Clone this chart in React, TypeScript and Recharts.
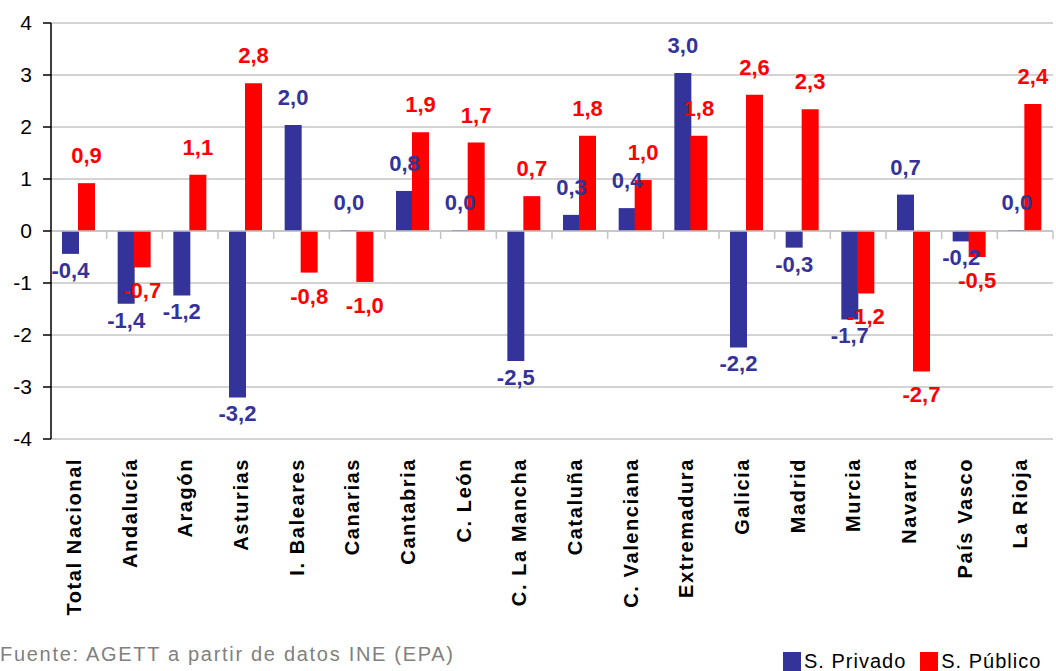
import React from "react"
import { BarChart, Bar, XAxis, YAxis, CartesianGrid, ReferenceLine, LabelList, Legend } from "recharts"

const regions = [
  "Total Nacional", "Andalucía", "Aragón", "Asturias", "I. Baleares", "Canarias",
  "Cantabria", "C. León", "C. La Mancha", "Cataluña", "C. Valenciana", "Extremadura",
  "Galicia", "Madrid", "Murcia", "Navarra", "País Vasco", "La Rioja",
]
const privado = [-0.44, -1.4, -1.24, -3.2, 2.04, 0, 0.77, 0, -2.5, 0.31, 0.44, 3.04, -2.24, -0.32, -1.7, 0.7, -0.2, 0]
const publico = [0.92, -0.7, 1.08, 2.84, -0.8, -0.98, 1.9, 1.7, 0.67, 1.83, 0.98, 1.83, 2.62, 2.34, -1.2, -2.7, -0.5, 2.44]
const yTicks = [-4, -3, -2, -1, 0, 1, 2, 3, 4]

const BLUE = "#333399"
const RED = "#ff0000"
const GRID = "#c4c4c4"

const data = regions.map((region, i) => ({ region, privado: privado[i], publico: publico[i] }))

const fmt = (v: number) => v.toFixed(1).replace(".", ",")

const ValueLabel = ({ x, y, width, height, value, fill, below }: any) => {
  if (value == null) return null
  const top = Math.min(y, y + height)
  const bottom = Math.max(y, y + height)
  const cx = x + width / 2
  const ty = value >= 0 ? top - 20 : bottom + below
  return (
    <text x={cx} y={ty} textAnchor="middle" fill={fill} fontSize={22} fontWeight="bold">
      {fmt(value)}
    </text>
  )
}

const CategoryTick = ({ x, y, payload }: any) => (
  <text
    x={x}
    y={y}
    dy={2}
    transform={`rotate(-90 ${x} ${y})`}
    textAnchor="end"
    fontSize={20}
    fontWeight="bold"
    letterSpacing={1.6}
    fill="#000"
  >
    {payload.value}
  </text>
)

// zero line with the little category separators hanging below it
const ZeroLine = ({ x1, y1, x2, y2 }: any) => {
  const step = (x2 - x1) / regions.length
  return (
    <g>
      <line x1={x1} y1={y1} x2={x2} y2={y2} stroke={GRID} strokeWidth={1.5} />
      {regions.map((_, i) => (
        <line key={i} x1={x1 + step * (i + 1)} y1={y1} x2={x1 + step * (i + 1)} y2={y1 + 8} stroke={GRID} strokeWidth={1.5} />
      ))}
    </g>
  )
}

const LegendContent = ({ payload }: any) => (
  <div style={{ display: "flex", height: 21, alignItems: "flex-end", whiteSpace: "nowrap" }}>
    {payload.map((p: any) => (
      <div key={p.value} style={{ display: "flex", alignItems: "flex-end", marginRight: 14 }}>
        <span style={{ display: "inline-block", width: 18, height: 19, background: p.color, marginRight: 3 }} />
        <span style={{ fontSize: 20, lineHeight: "20px", letterSpacing: 1, color: "#000" }}>{p.value}</span>
      </div>
    ))}
  </div>
)

// a zero change still gets its label, so give it a hairline bar
const zeroSize = (v: any) => (v === 0 ? 1 : 0)

export default function App() {
  return (
    <div style={{ position: "absolute", left: 0, top: 0, width: 1056, height: 671, overflow: "hidden", background: "#fff", fontFamily: "'Liberation Sans', Arial, sans-serif" }}>
      <BarChart
        width={1056}
        height={671}
        data={data}
        margin={{ top: 23, right: 3, bottom: 31, left: 0 }}
        barGap={-1}
        barSize={17}
      >
        <CartesianGrid vertical={false} stroke={GRID} strokeWidth={1.5} />
        <XAxis
          dataKey="region"
          axisLine={false}
          tickLine={false}
          interval={0}
          height={180}
          tickMargin={13}
          tick={<CategoryTick />}
        />
        <YAxis
          domain={[-4, 4]}
          ticks={yTicks}
          width={51}
          tickSize={8}
          tickMargin={11}
          axisLine={{ stroke: "#000", strokeWidth: 1.5 }}
          tickLine={{ stroke: "#000", strokeWidth: 1.5 }}
          tick={{ fill: "#000", fontSize: 21 }}
          tickFormatter={(v) => String(v)}
        />
        <ReferenceLine y={0} shape={(p: any) => <ZeroLine {...p} />} />
        <Legend
          verticalAlign="bottom"
          content={<LegendContent />}
          wrapperStyle={{ left: 783, bottom: 0, width: 320, height: 21 }}
        />
        <Bar dataKey="privado" name="S. Privado" fill={BLUE} minPointSize={zeroSize} isAnimationActive={false}>
          <LabelList dataKey="privado" content={(p: any) => <ValueLabel {...p} fill={BLUE} below={24} />} />
        </Bar>
        <Bar dataKey="publico" name="S. Público" fill={RED} isAnimationActive={false}>
          <LabelList dataKey="publico" content={(p: any) => <ValueLabel {...p} fill={RED} below={31} />} />
        </Bar>
      </BarChart>
      <div style={{ position: "absolute", left: 0, top: 643, fontSize: 20, color: "#808080", letterSpacing: 1.7, whiteSpace: "nowrap" }}>
        Fuente: AGETT a partir de datos INE (EPA)
      </div>
    </div>
  )
}
